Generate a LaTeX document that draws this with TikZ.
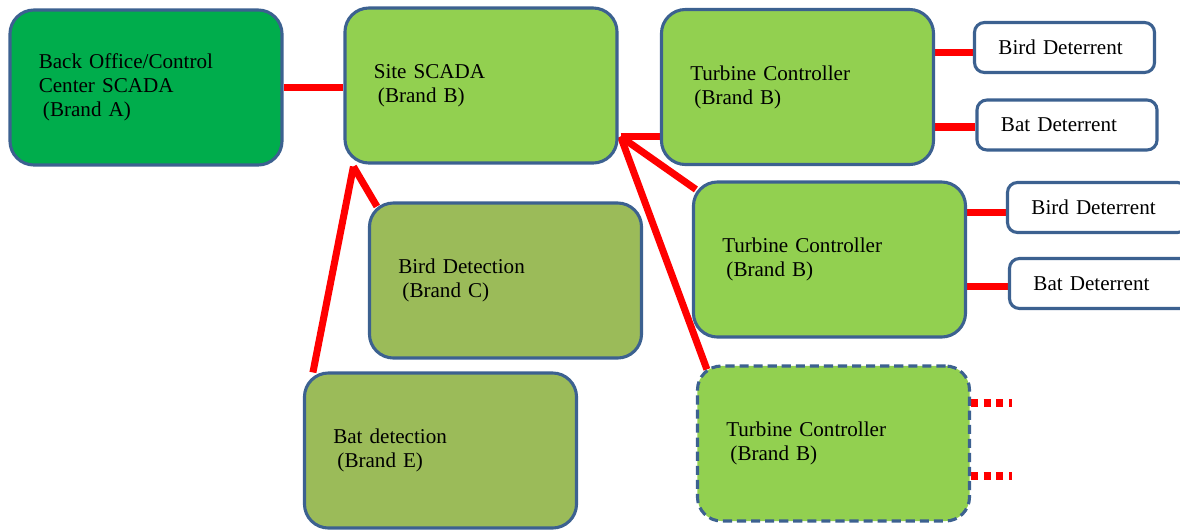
\documentclass[tikz,border=0pt]{standalone}
\usepackage{fontspec}
\setmainfont{Liberation Serif}
\usepackage{xcolor}
\usepackage{tikz}
\usetikzlibrary{calc}
\pgfdeclarelayer{background}
\pgfsetlayers{background,main}

\definecolor{edgeblue}{RGB}{60,97,144}
\definecolor{officegreen}{RGB}{0,173,76}
\definecolor{limegreen}{RGB}{146,208,80}
\definecolor{olivegreen}{RGB}{155,187,89}

\begin{document}
\begin{tikzpicture}[x=0.025cm, y=-0.025cm,
  unitbox/.style={draw=edgeblue, line width=2.2pt, rounded corners=0.6cm, minimum height=3.875cm, inner xsep=0.72cm, text width=5.36cm, align=left, font=\fontsize{15}{17}\selectfont},
  deterbox/.style={draw=edgeblue, line width=2.2pt, rounded corners=0.25cm, fill=white, minimum height=1.25cm, inner xsep=0.6cm, text width=3.3cm, align=left, font=\fontsize{15}{17}\selectfont},
  wire/.style={draw=red, line width=5pt},
  morewire/.style={wire, dash pattern=on 5pt off 4pt}]
  \useasboundingbox (0,0) rectangle (1180,529);

  % boxes
  \node[unitbox, fill=officegreen] (backoffice) at (146,87.5) {Back Office/Control\\Center SCADA\\\hspace*{3pt}(Brand A)};
  \node[unitbox, fill=limegreen] (site) at (481,85.5) {Site SCADA\\\hspace*{3pt}(Brand B)};
  \node[unitbox, fill=limegreen] (tcA) at (797.5,87) {Turbine Controller\\\hspace*{3pt}(Brand B)};
  \node[unitbox, fill=limegreen] (tcB) at (829.5,259.5) {Turbine Controller\\\hspace*{3pt}(Brand B)};
  \node[unitbox, fill=limegreen, dash pattern=on 6.5pt off 3.5pt] (tcC) at (833.5,443.5) {Turbine Controller\\\hspace*{3pt}(Brand B)};
  \node[unitbox, fill=olivegreen] (birddet) at (505.5,280.5) {Bird Detection\\\hspace*{3pt}(Brand C)};
  \node[unitbox, fill=olivegreen] (batdet) at (440.5,450.5) {Bat detection\\\hspace*{3pt}(Brand E)};

  \node[deterbox] (birddA) at (1064.5,47.5) {Bird Deterrent};
  \node[deterbox] (batdA) at (1067,125) {Bat Deterrent};
  \node[deterbox] (birddB) at (1097.5,207.5) {Bird Deterrent};
  \node[deterbox] (batdB) at (1099.5,283.5) {Bat Deterrent};

  % links
  \begin{pgfonlayer}{background}
    \coordinate (hub) at ($(site.south east)+(2,-28)$);
    \coordinate (fork) at ($(site.south west)+(10,2)$);
    \draw[wire] (backoffice.east) -- (backoffice.east -| site.west);
    \draw[wire] (hub) -- (hub -| tcA.west);
    \draw[wire] (hub) -- ($(tcB.north west)+(4,9)$);
    \draw[wire] (hub) -- ($(tcC.north west)+(11,5)$);
    \draw[wire] (fork) -- ($(birddet.north west)+(9,5)$);
    \draw[wire] (fork) -- ($(batdet.north west)+(10,1)$);

    \draw[wire] ($(birddA.west)+(0,5)$) -- ($(birddA.west -| tcA.east)+(0,5)$);
    \draw[wire] ($(batdA.west)+(0,2)$) -- ($(batdA.west -| tcA.east)+(0,2)$);
    \draw[wire] ($(birddB.west)+(0,5)$) -- ($(birddB.west -| tcB.east)+(0,5)$);
    \draw[wire] ($(batdB.west)+(0,3)$) -- ($(batdB.west -| tcB.east)+(0,3)$);

    \coordinate (moreA) at (1012,403);
    \coordinate (moreB) at (1012,476);
    \draw[morewire] (moreA -| tcC.east) -- (moreA);
    \draw[morewire] (moreB -| tcC.east) -- (moreB);
  \end{pgfonlayer}
\end{tikzpicture}
\end{document}
